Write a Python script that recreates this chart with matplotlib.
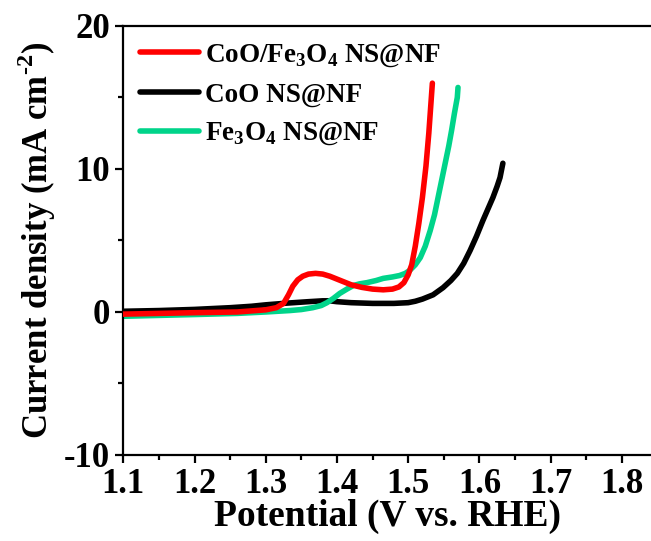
import matplotlib
matplotlib.use("Agg")
import matplotlib.pyplot as plt
from matplotlib.ticker import MultipleLocator

plt.rcParams["font.family"] = "Liberation Serif"
plt.rcParams["font.weight"] = "bold"
plt.rcParams["mathtext.fontset"] = "custom"
plt.rcParams["mathtext.rm"] = "Liberation Serif:bold"
plt.rcParams["mathtext.bf"] = "Liberation Serif:bold"
plt.rcParams["axes.unicode_minus"] = False

# LSV data
pot_cofe = [1.10, 1.20, 1.26, 1.30, 1.315, 1.325, 1.332, 1.338, 1.345, 1.352, 1.36,
            1.37, 1.38, 1.39, 1.40, 1.41, 1.42, 1.435, 1.45, 1.465, 1.478, 1.487,
            1.494, 1.50, 1.505, 1.51, 1.515, 1.52, 1.525, 1.529, 1.532, 1.534]
cur_cofe = [-0.15, -0.05, 0.0, 0.15, 0.3, 0.6, 1.2, 1.8, 2.25, 2.5, 2.65,
            2.7, 2.65, 2.5, 2.3, 2.1, 1.9, 1.72, 1.6, 1.55, 1.6, 1.75,
            2.05, 2.6, 3.3, 4.6, 6.2, 8.0, 10.2, 12.5, 14.6, 16.0]

pot_coo = [1.10, 1.15, 1.20, 1.25, 1.28, 1.30, 1.33, 1.36, 1.38, 1.39, 1.40,
           1.42, 1.45, 1.48, 1.50, 1.51, 1.52, 1.535, 1.549, 1.56, 1.569, 1.578,
           1.587, 1.596, 1.605, 1.612, 1.619, 1.625, 1.629, 1.633]
cur_coo = [0.05, 0.1, 0.18, 0.3, 0.4, 0.5, 0.62, 0.72, 0.78, 0.78, 0.72,
           0.65, 0.6, 0.6, 0.65, 0.75, 0.9, 1.2, 1.7, 2.2, 2.7, 3.4,
           4.3, 5.3, 6.4, 7.2, 8.0, 8.8, 9.4, 10.4]

pot_fe = [1.10, 1.20, 1.26, 1.30, 1.334, 1.35, 1.366, 1.378, 1.386, 1.395, 1.404,
          1.414, 1.423, 1.432, 1.442, 1.455, 1.465, 1.478, 1.488, 1.496, 1.502,
          1.51, 1.517, 1.524, 1.531, 1.537, 1.542, 1.547, 1.552, 1.557, 1.561,
          1.565, 1.569, 1.570]
cur_fe = [-0.3, -0.18, -0.1, 0.0, 0.1, 0.17, 0.3, 0.45, 0.65, 0.95, 1.3,
          1.6, 1.85, 1.97, 2.05, 2.2, 2.35, 2.45, 2.55, 2.7, 2.9,
          3.3, 3.8, 4.6, 5.7, 6.8, 8.0, 9.2, 10.4, 11.6, 12.7,
          13.9, 15.0, 15.7]

labels = ["CoO/Fe$_3$O$_4$ NS@NF", "CoO NS@NF", "Fe$_3$O$_4$ NS@NF"]
colors = ["#ff0000", "#000000", "#00d48a"]

fig = plt.figure(figsize=(6.51, 5.41), dpi=100)
ax = fig.add_axes([0.1894, 0.159, 0.8106, 0.793])

style = dict(lw=4, solid_joinstyle="round", solid_capstyle="round")
ax.plot(pot_cofe, cur_cofe, color=colors[0], label=labels[0], zorder=3, **style)
ax.plot(pot_coo, cur_coo, color=colors[1], label=labels[1], zorder=2, **style)
ax.plot(pot_fe, cur_fe, color=colors[2], label=labels[2], zorder=2, **style)

ax.set_xlim(1.1, 1.841)
ax.set_ylim(-10, 20)
ax.xaxis.set_major_locator(MultipleLocator(0.1))
ax.xaxis.set_minor_locator(MultipleLocator(0.05))
ax.yaxis.set_major_locator(MultipleLocator(10))
ax.yaxis.set_minor_locator(MultipleLocator(5))
ax.tick_params(which="major", length=6, width=1.6, labelsize=25)
ax.tick_params(which="minor", length=3.5, width=1.6)
ax.spines["right"].set_visible(False)
for s in ["left", "bottom", "top"]:
    ax.spines[s].set_linewidth(1.6)

ax.set_xlabel("Potential (V vs. RHE)", fontsize=27, fontweight="bold", labelpad=-2)
ax.set_ylabel("Current density (mA cm$^{\\text{-2}}$)", fontsize=25, fontweight="bold", labelpad=4)

ax.legend(loc="upper left", frameon=False, fontsize=19.5, handlelength=2.2,
          handletextpad=0.2, labelspacing=0.5, borderaxespad=0.2,
          bbox_to_anchor=(0.0, 1.0))

fig.savefig("out.png", dpi=100)
